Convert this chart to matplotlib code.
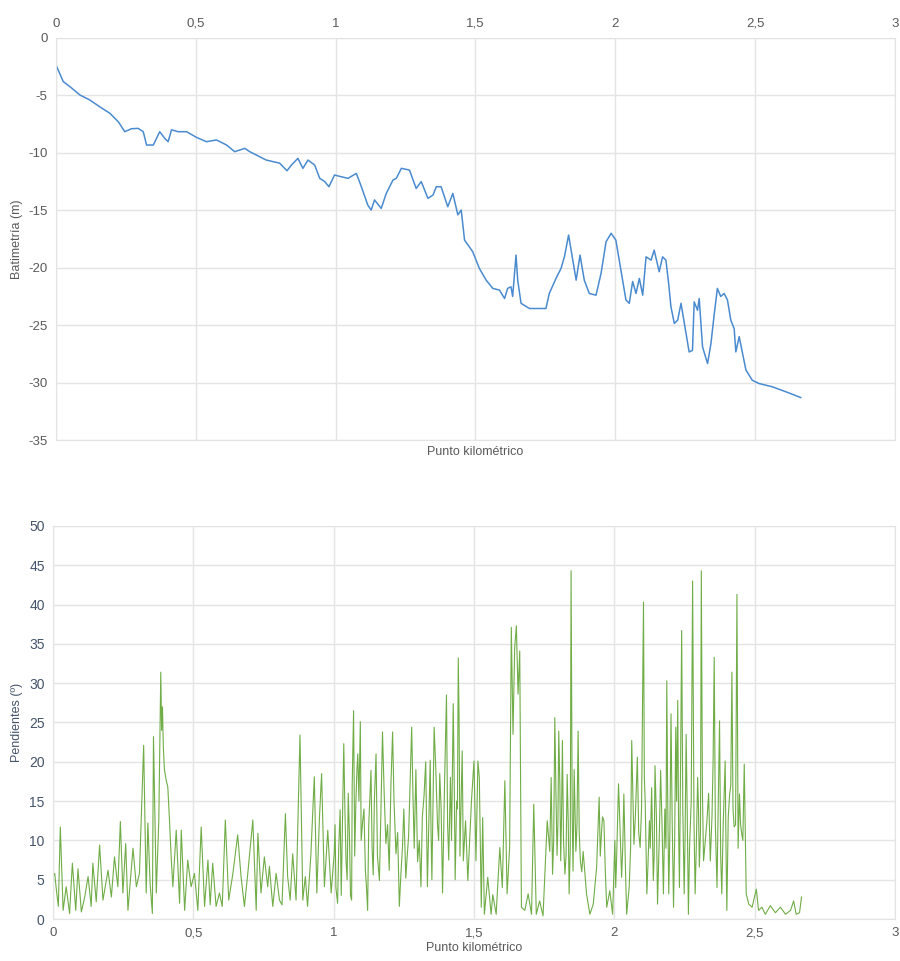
import matplotlib
matplotlib.use("Agg")
import matplotlib.pyplot as plt

plt.rcParams['font.family'] = ['Liberation Sans', 'DejaVu Sans']
plt.rcParams['axes.unicode_minus'] = False

# ---------------- data ----------------
tick_vals = [0, 0.5, 1, 1.5, 2, 2.5, 3]
tick_labels = ["0", "0,5", "1", "1,5", "2", "2,5", "3"]
bat_yticks = [0, -5, -10, -15, -20, -25, -30, -35]
pen_yticks = [0, 5, 10, 15, 20, 25, 30, 35, 40, 45, 50]

bat_km = [0.000, 0.026, 0.050, 0.086, 0.121, 0.157, 0.193, 0.223, 0.246, 0.270, 0.294, 0.312,
          0.324, 0.348, 0.371, 0.389, 0.401, 0.413, 0.437, 0.467, 0.502, 0.538, 0.574, 0.610,
          0.639, 0.675, 0.693, 0.729, 0.752, 0.800, 0.826, 0.842, 0.865, 0.883, 0.901, 0.925,
          0.943, 0.961, 0.976, 0.996, 1.020, 1.044, 1.074, 1.092, 1.115, 1.127, 1.139, 1.163,
          1.181, 1.205, 1.217, 1.235, 1.264, 1.288, 1.306, 1.330, 1.348, 1.360, 1.377, 1.401,
          1.419, 1.437, 1.449, 1.461, 1.490, 1.514, 1.538, 1.562, 1.586, 1.604, 1.615, 1.627,
          1.633, 1.645, 1.651, 1.663, 1.693, 1.729, 1.752, 1.764, 1.788, 1.806, 1.818, 1.833,
          1.848, 1.860, 1.874, 1.889, 1.907, 1.931, 1.949, 1.967, 1.985, 2.002, 2.020, 2.038,
          2.050, 2.062, 2.074, 2.086, 2.098, 2.110, 2.128, 2.139, 2.157, 2.169, 2.181, 2.190,
          2.199, 2.211, 2.223, 2.235, 2.247, 2.264, 2.276, 2.282, 2.294, 2.300, 2.312, 2.330,
          2.342, 2.354, 2.365, 2.377, 2.389, 2.401, 2.413, 2.425, 2.431, 2.443, 2.455, 2.467,
          2.490, 2.514, 2.562, 2.610, 2.663]
bat_m = [-2.35, -3.8, -4.24, -4.97, -5.4, -6.0, -6.56, -7.3, -8.16, -7.9, -7.87, -8.16,
         -9.32, -9.32, -8.16, -8.74, -9.03, -8.0, -8.16, -8.16, -8.65, -9.03, -8.88, -9.32,
         -9.9, -9.61, -9.9, -10.34, -10.63, -10.9, -11.56, -11.06, -10.48, -11.35, -10.63, -11.06,
         -12.22, -12.5, -12.95, -11.93, -12.08, -12.22, -11.79, -12.95, -14.55, -14.98, -14.1, -14.84,
         -13.53, -12.37, -12.22, -11.35, -11.5, -13.1, -12.5, -13.96, -13.68, -12.95, -12.95, -14.69,
         -13.53, -15.4, -14.98, -17.6, -18.6, -20.06, -21.08, -21.8, -21.95, -22.68, -21.8, -21.66,
         -22.5, -18.9, -21.08, -23.1, -23.55, -23.55, -23.55, -22.24, -20.93, -20.06, -19.05, -17.16,
         -19.34, -21.08, -18.9, -21.08, -22.24, -22.39, -20.5, -17.74, -17.0, -17.6, -20.2, -22.8,
         -23.1, -21.2, -22.24, -20.93, -22.39, -19.05, -19.34, -18.47, -20.35, -19.05, -19.34, -21.2,
         -23.4, -24.85, -24.56, -23.1, -24.85, -27.33, -27.2, -22.97, -23.7, -22.68, -26.9, -28.34,
         -26.6, -24.0, -21.8, -22.5, -22.24, -22.8, -24.56, -25.3, -27.33, -26.0, -27.47, -28.9,
         -29.8, -30.08, -30.37, -30.8, -31.3]

pen_km = [0.000, 0.006, 0.012, 0.019, 0.026, 0.036, 0.047, 0.059, 0.069, 0.081, 0.089, 0.101,
          0.113, 0.125, 0.136, 0.142, 0.154, 0.166, 0.178, 0.196, 0.208, 0.219, 0.231, 0.240,
          0.249, 0.259, 0.267, 0.285, 0.297, 0.308, 0.323, 0.332, 0.338, 0.346, 0.354, 0.358,
          0.368, 0.377, 0.384, 0.387, 0.390, 0.393, 0.397, 0.403, 0.409, 0.415, 0.421, 0.427,
          0.439, 0.451, 0.457, 0.469, 0.480, 0.492, 0.504, 0.516, 0.528, 0.540, 0.552, 0.560,
          0.569, 0.581, 0.593, 0.603, 0.614, 0.626, 0.641, 0.658, 0.670, 0.682, 0.694, 0.712,
          0.724, 0.730, 0.741, 0.753, 0.765, 0.771, 0.783, 0.795, 0.807, 0.816, 0.828, 0.836,
          0.845, 0.854, 0.866, 0.880, 0.890, 0.899, 0.907, 0.919, 0.931, 0.940, 0.949, 0.957,
          0.967, 0.979, 0.991, 1.002, 1.014, 1.023, 1.036, 1.044, 1.052, 1.064, 1.071, 1.079,
          1.086, 1.090, 1.095, 1.103, 1.113, 1.121, 1.133, 1.141, 1.151, 1.163, 1.174, 1.186,
          1.198, 1.210, 1.222, 1.234, 1.245, 1.257, 1.267, 1.278, 1.287, 1.299, 1.311, 1.322,
          1.334, 1.344, 1.350, 1.358, 1.370, 1.378, 1.388, 1.402, 1.410, 1.416, 1.426, 1.433,
          1.438, 1.444, 1.450, 1.458, 1.462, 1.470, 1.478, 1.491, 1.500, 1.507, 1.514, 1.519,
          1.526, 1.531, 1.537, 1.549, 1.561, 1.567, 1.579, 1.592, 1.601, 1.610, 1.618, 1.627,
          1.633, 1.639, 1.645, 1.651, 1.657, 1.663, 1.669, 1.681, 1.693, 1.705, 1.713, 1.722,
          1.734, 1.746, 1.761, 1.770, 1.780, 1.788, 1.796, 1.802, 1.809, 1.815, 1.824, 1.832,
          1.839, 1.846, 1.853, 1.863, 1.871, 1.879, 1.889, 1.901, 1.913, 1.925, 1.937, 1.946,
          1.954, 1.963, 1.973, 1.984, 1.994, 2.002, 2.008, 2.015, 2.026, 2.034, 2.044, 2.053,
          2.062, 2.070, 2.082, 2.092, 2.104, 2.110, 2.116, 2.125, 2.133, 2.139, 2.145, 2.154,
          2.165, 2.175, 2.187, 2.194, 2.202, 2.211, 2.219, 2.226, 2.232, 2.240, 2.249, 2.256,
          2.264, 2.279, 2.288, 2.297, 2.303, 2.310, 2.318, 2.330, 2.342, 2.356, 2.366, 2.375,
          2.383, 2.395, 2.401, 2.411, 2.419, 2.427, 2.437, 2.446, 2.454, 2.463, 2.470, 2.479,
          2.491, 2.506, 2.514, 2.526, 2.538, 2.556, 2.574, 2.592, 2.610, 2.628, 2.639, 2.648,
          2.660, 2.667]
pen_deg = [5.4, 5.8, 3.7, 1.6, 11.7, 1.1, 4.1, 0.7, 7.1, 1.1, 6.4, 0.9,
           2.8, 5.4, 1.6, 7.1, 2.2, 9.4, 2.4, 6.2, 2.8, 7.9, 4.1, 12.4,
           3.3, 9.6, 1.1, 9.0, 4.1, 5.8, 22.1, 3.3, 12.2, 4.5, 0.7, 23.2,
           3.3, 12.6, 31.4, 24.0, 27.0, 22.0, 19.0, 17.7, 16.8, 12.6, 7.9, 4.1,
           11.3, 2.0, 11.3, 1.1, 7.5, 4.1, 5.8, 1.1, 11.7, 1.6, 7.5, 1.8,
           7.1, 1.6, 3.3, 1.6, 12.6, 2.4, 5.8, 10.7, 5.4, 1.6, 5.8, 12.6,
           1.1, 10.9, 3.3, 7.9, 4.1, 6.7, 1.6, 5.8, 2.4, 1.8, 13.4, 5.4,
           2.4, 8.3, 2.4, 23.4, 2.4, 5.4, 1.6, 8.3, 18.1, 3.3, 12.6, 18.5,
           4.1, 11.3, 3.3, 8.3, 2.0, 13.9, 22.3, 7.5, 16.0, 2.4, 26.5, 14.7,
           21.0, 15.0, 25.1, 12.3, 6.2, 1.1, 18.9, 5.6, 21.0, 4.9, 23.8, 9.6,
           6.2, 23.8, 8.3, 1.6, 9.0, 5.2, 10.5, 24.4, 9.0, 7.3, 4.1, 15.7,
           4.1, 20.2, 5.0, 24.4, 12.0, 18.5, 3.3, 28.5, 7.5, 18.0, 27.4, 5.0,
           15.0, 33.2, 8.0, 21.4, 7.4, 12.5, 4.9, 15.0, 20.1, 7.4, 20.1, 18.0,
           1.5, 12.9, 0.6, 5.3, 0.6, 3.1, 0.6, 9.1, 4.0, 17.6, 3.2, 9.1,
           37.1, 23.5, 34.5, 37.3, 28.6, 34.1, 1.5, 1.1, 3.2, 0.6, 14.6, 0.6,
           2.3, 0.4, 12.5, 8.6, 5.7, 25.6, 8.1, 23.9, 7.4, 22.7, 5.7, 18.4,
           3.2, 44.3, 6.1, 8.6, 23.9, 7.4, 8.6, 3.2, 0.6, 1.9, 6.6, 15.5,
           10.8, 12.5, 1.5, 3.6, 0.6, 10.0, 7.4, 17.2, 5.3, 15.9, 0.6, 4.0,
           22.7, 9.5, 20.6, 9.1, 40.3, 15.0, 3.2, 12.5, 16.7, 4.9, 19.5, 1.9,
           18.9, 3.2, 30.3, 3.2, 26.1, 1.5, 24.4, 27.8, 4.0, 36.7, 3.2, 23.5,
           0.6, 43.0, 3.2, 18.0, 6.6, 44.3, 7.4, 12.5, 7.4, 33.3, 4.0, 25.2,
           3.2, 20.1, 1.1, 15.9, 31.4, 11.7, 41.3, 15.9, 10.8, 19.7, 3.2, 1.9,
           1.5, 3.8, 1.1, 1.5, 0.6, 1.7, 0.8, 1.5, 0.6, 1.1, 2.3, 0.6,
           0.8, 2.8]

# additional readings in the densest stretches of the slope profile
pen_km_extra = [1.005, 1.008, 1.018, 1.027, 1.040, 1.048, 1.056, 1.060, 1.066, 1.075, 1.083,
                1.098, 1.108, 1.117, 1.125, 1.137, 1.145, 1.156, 1.168, 1.180, 1.192, 1.204,
                1.215, 1.228, 1.240, 1.250, 1.262, 1.272, 1.283, 1.293, 1.305, 1.316, 1.328,
                1.339, 1.347, 1.354, 1.364, 1.374, 1.383, 1.395, 1.406, 1.420, 1.430, 1.441,
                1.447, 1.775, 1.784, 1.792, 1.799, 1.806, 1.812, 1.819, 1.828, 1.836, 1.843,
                1.850, 1.857, 1.867, 1.875, 1.884, 1.950, 1.958, 1.968, 2.005, 2.020, 2.030,
                2.040, 2.058, 2.066, 2.075, 2.087, 2.097, 2.107, 2.120, 2.128, 2.136, 2.142,
                2.150, 2.160, 2.170, 2.180, 2.184, 2.190, 2.198, 2.206, 2.215, 2.222, 2.229,
                2.236, 2.244, 2.252, 2.260, 2.268, 2.274, 2.284, 2.292, 2.300, 2.307, 2.314,
                2.322, 2.336, 2.348, 2.352, 2.360, 2.370, 2.379, 2.388, 2.398, 2.406, 2.415,
                2.423, 2.432, 2.441, 2.450, 2.458]
pen_deg_extra = [12.0, 4.0, 9.0, 3.0, 14.0, 5.0, 11.0, 3.0, 17.0, 8.0, 19.0,
                 10.0, 14.0, 4.0, 12.0, 9.0, 15.0, 8.0, 13.0, 16.0, 12.0, 17.0,
                 15.0, 11.0, 6.0, 14.0, 8.0, 17.0, 15.0, 19.0, 10.0, 13.0, 20.0,
                 12.0, 11.0, 15.0, 19.0, 10.0, 14.0, 17.0, 12.0, 10.0, 16.0, 14.0,
                 25.0, 18.0, 10.0, 16.0, 12.0, 17.0, 13.0, 10.0, 8.0, 12.0, 9.0,
                 13.0, 19.0, 12.0, 11.0, 6.0, 8.0, 13.0, 6.0, 4.0, 12.0, 9.0,
                 6.0, 9.0, 16.0, 13.0, 11.0, 14.0, 18.0, 7.0, 9.0, 11.0, 8.0,
                 13.0, 10.0, 12.0, 14.0, 9.0, 16.0, 11.0, 13.0, 10.0, 15.0, 12.0,
                 19.0, 14.0, 10.0, 13.0, 9.0, 15.0, 12.0, 9.0, 14.0, 11.0, 16.0,
                 9.0, 16.0, 13.0, 20.0, 12.0, 14.0, 8.0, 12.0, 9.0, 13.0, 17.0,
                 14.0, 12.0, 9.0, 12.0, 10.0]

pairs = sorted(zip(pen_km + pen_km_extra, pen_deg + pen_deg_extra))
pen_x = [p[0] for p in pairs]
pen_y = [p[1] for p in pairs]

# ---------------- styling ----------------
fig = plt.figure(figsize=(9.0, 9.61), dpi=100)
grid_c = "#e4e4e4"
tick_c = "#595959"

ax1 = fig.add_axes([0.0622, 0.5421, 0.9322, 0.4184])
ax1.plot(bat_km, bat_m, color="#4A8BD0", lw=1.1)
ax1.set_xlim(0, 3)
ax1.set_ylim(-35, 0)
ax1.set_xticks(tick_vals)
ax1.set_xticklabels(tick_labels)
ax1.set_yticks(bat_yticks)
ax1.xaxis.tick_top()
ax1.set_xlabel("Punto kilométrico", fontsize=9, color=tick_c, labelpad=4)
ax1.xaxis.set_label_position("bottom")
ax1.set_ylabel("Batimetría (m)", fontsize=9, color=tick_c, labelpad=4)

ax2 = fig.add_axes([0.0589, 0.0437, 0.9355, 0.409])
ax2.plot(pen_x, pen_y, color="#70AD47", lw=0.8)
ax2.set_xlim(0, 3)
ax2.set_ylim(0, 50)
ax2.set_xticks(tick_vals)
ax2.set_xticklabels(tick_labels)
ax2.set_yticks(pen_yticks)
ax2.set_xlabel("Punto kilométrico", fontsize=9, color=tick_c, labelpad=2)
ax2.set_ylabel("Pendientes (º)", fontsize=9, color="#44546A", labelpad=4)

for ax in (ax1, ax2):
    ax.grid(True, color=grid_c, lw=1.0)
    ax.set_axisbelow(True)
    for s in ax.spines.values():
        s.set_color(grid_c)
    ax.tick_params(length=0, labelsize=9.5, colors=tick_c, pad=6)

ax2.tick_params(axis="y", colors="#44546A", labelsize=10)

fig.savefig("out.png", dpi=100)
